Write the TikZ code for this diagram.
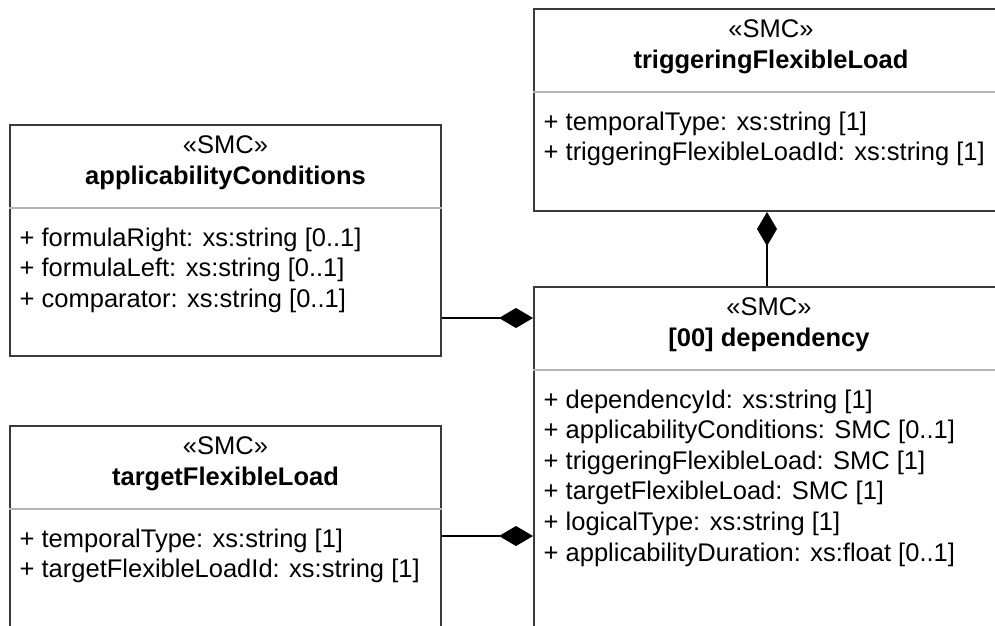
\documentclass[tikz,border=0pt]{standalone}
\usepackage{fontspec}
\setmainfont{Liberation Sans}
\usetikzlibrary{arrows.meta}
\definecolor{boxline}{HTML}{3A3A3A}
\definecolor{divline}{HTML}{B4B4B4}
\tikzset{
  smc/.style={draw=boxline, line width=2pt, rectangle, anchor=north west, inner sep=0pt},
  divider/.style={draw=divline, line width=2pt},
  uml/.style={font=\fontsize{25.5}{30.6}\selectfont, inner sep=0pt, anchor=base},
  attr/.style={uml, anchor=base west},
  composition/.style={draw=black, line width=1.5pt, -{Diamond[length=34pt,width=20pt]}}
}
\begin{document}
\begin{tikzpicture}[x=1pt, y=-1pt]
        \useasboundingbox (0,0) rectangle (995,625);
        \clip (0,0) rectangle (995,625);
        \node[smc, minimum width=474pt, minimum height=202pt] (trig) at (533,8) {};
        \node[smc, minimum width=431pt, minimum height=231pt] (appl) at (9,124) {};
        \node[smc, minimum width=470pt, minimum height=360pt] (dep) at (533,286) {};
        \node[smc, minimum width=431pt, minimum height=220pt] (targ) at (9,425) {};
        \foreach \cls/\nm in {trig/triggeringFlexibleLoad, appl/applicabilityConditions, dep/{[00] dependency}, targ/targetFlexibleLoad} {
          \node[uml] (\cls-st) at ([yshift=-29pt]\cls.north) {«SMC»};
          \node[uml, font=\fontsize{25.5}{30.6}\selectfont\bfseries] (\cls-nm) at ([yshift=-60pt]\cls.north) {\nm};
          \draw[divider] ([yshift=-84pt]\cls.north west) -- ([yshift=-84pt]\cls.north east);
        }
        \foreach \at [count=\i from 0] in {{+ temporalType: xs:string [1]}, {+ triggeringFlexibleLoadId: xs:string [1]}}
          \node[attr] at ([xshift=10.5pt, yshift=-122pt-30.6pt*\i]trig.north west) {\at};
        \foreach \at [count=\i from 0] in {{+ formulaRight: xs:string [0..1]}, {+ formulaLeft: xs:string [0..1]}, {+ comparator: xs:string [0..1]}}
          \node[attr] at ([xshift=10.5pt, yshift=-122pt-30.6pt*\i]appl.north west) {\at};
        \foreach \at [count=\i from 0] in {{+ dependencyId: xs:string [1]}, {+ applicabilityConditions: SMC [0..1]}, {+ triggeringFlexibleLoad: SMC [1]}, {+ targetFlexibleLoad: SMC [1]}, {+ logicalType: xs:string [1]}, {+ applicabilityDuration: xs:float [0..1]}}
          \node[attr] at ([xshift=10.5pt, yshift=-122pt-30.6pt*\i]dep.north west) {\at};
        \foreach \at [count=\i from 0] in {{+ temporalType: xs:string [1]}, {+ targetFlexibleLoadId: xs:string [1]}}
          \node[attr] at ([xshift=10.5pt, yshift=-122pt-30.6pt*\i]targ.north west) {\at};
        \coordinate (applrow) at (0,318);
        \coordinate (targrow) at (0,536);
        \coordinate (trigcol) at (767,0);
        \draw[composition] (appl.east |- applrow) -- (dep.west |- applrow);
        \draw[composition] (targ.east |- targrow) -- (dep.west |- targrow);
        \draw[composition] (dep.north -| trigcol) -- (trig.south -| trigcol);
        \end{tikzpicture}
\end{document}
